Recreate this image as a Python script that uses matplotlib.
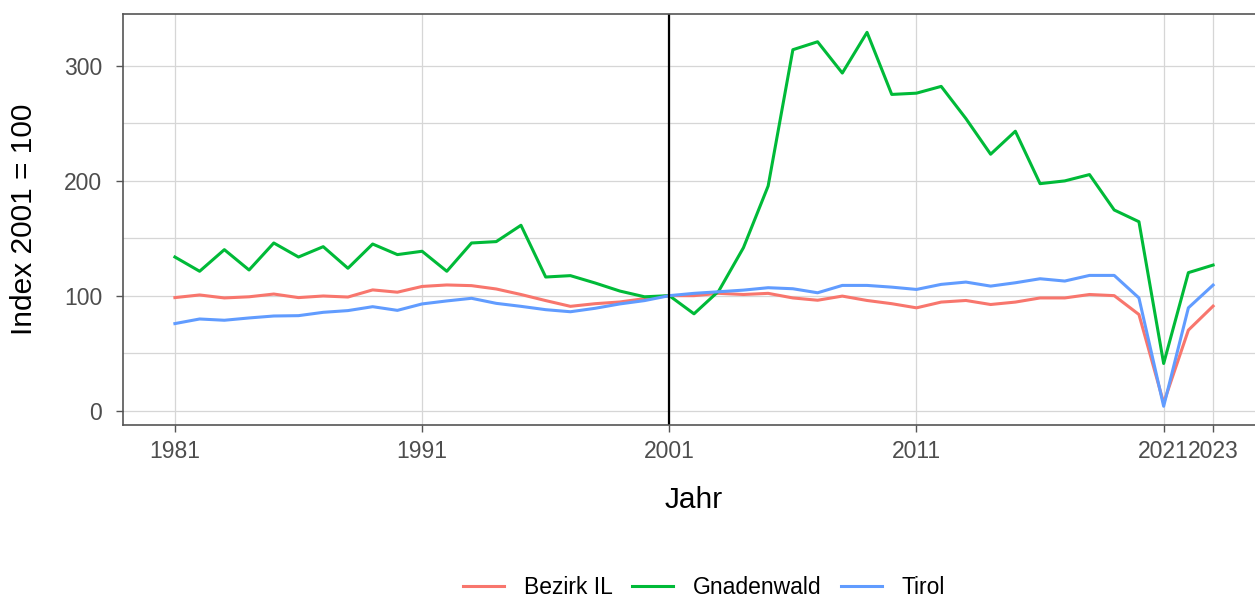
import matplotlib
matplotlib.use("Agg")
import matplotlib.pyplot as plt
from matplotlib.ticker import MultipleLocator

plt.rcParams['font.family'] = ['Liberation Sans', 'DejaVu Sans']

# Data (index 2001 = 100)
years = list(range(1981, 2024))

bezirk_il = [98.3, 100.6, 98.0, 99.0, 101.4, 98.3, 99.7, 98.8, 105.0, 103.0,
             108.0, 109.3, 108.7, 105.8, 101.0, 95.7, 90.7, 93.0, 94.5, 97.4,
             100.0, 100.0, 102.0, 101.0, 102.0, 98.0, 96.0, 99.6, 95.8, 93.0,
             89.4, 94.4, 95.8, 92.3, 94.4, 98.0, 98.0, 101.0, 100.0, 83.6,
             6.7, 70.0, 90.9]

gnadenwald = [133.6, 121.2, 140.0, 122.3, 145.8, 133.6, 142.6, 123.8, 144.9, 135.7,
              138.6, 121.2, 145.8, 147.0, 161.2, 116.2, 117.4, 111.0, 104.0, 99.0,
              100.0, 84.2, 104.0, 141.7, 195.4, 313.9, 320.8, 293.6, 329.0, 275.0,
              276.1, 282.0, 254.0, 223.0, 243.0, 197.4, 199.8, 205.3, 174.5, 164.3,
              41.0, 120.0, 126.6]

tirol = [75.7, 79.7, 78.6, 80.6, 82.3, 82.6, 85.5, 87.0, 90.4, 87.2,
         92.8, 95.4, 97.7, 93.3, 90.7, 87.8, 86.0, 89.0, 92.8, 95.7,
         100.0, 102.0, 103.4, 104.8, 106.9, 106.0, 102.5, 108.9, 108.9, 107.4,
         105.4, 109.8, 111.8, 108.3, 111.2, 114.7, 112.7, 117.6, 117.6, 98.0,
         3.8, 89.4, 109.2]

series = [("Bezirk IL", bezirk_il, "#F8766D"),
          ("Gnadenwald", gnadenwald, "#00BA38"),
          ("Tirol", tirol, "#619CFF")]

x_ticks = [1981, 1991, 2001, 2011, 2021, 2023]
base_year = 2001

W, H = 1255, 597
fig = plt.figure(figsize=(W / 100, H / 100), dpi=100)
# panel position in pixels (right edge runs slightly past the figure)
left, right, top, bottom = 123, 1265, 13.6, 425
ax = fig.add_axes([left / W, 1 - bottom / H, (right - left) / W, (bottom - top) / H])

for name, vals, color in series:
    ax.plot(years, vals, color=color, linewidth=2.2, label=name, solid_joinstyle='round')

ax.axvline(base_year, color='black', linewidth=1.6)

ax.set_xlim(1978.9, 2025.1)
ax.set_ylim(-12.5, 345.3)
ax.set_xticks(x_ticks)
ax.set_yticks([0, 100, 200, 300])
ax.yaxis.set_minor_locator(MultipleLocator(50))

grid_col = '#D6D6D6'
ax.grid(True, which='major', color=grid_col, linewidth=0.9)
ax.grid(True, which='minor', axis='y', color=grid_col, linewidth=0.9)
ax.set_axisbelow(True)

for sp in ax.spines.values():
    sp.set_color('#555555')
    sp.set_linewidth(1.2)

ax.tick_params(axis='both', which='major', length=5, width=1.0, color='#555555',
               labelsize=16.5, labelcolor='#4D4D4D')
ax.tick_params(axis='x', pad=6)
ax.tick_params(axis='y', pad=10)
ax.tick_params(axis='y', which='minor', length=0)

fig.text(0.5 * (left + right) / W, 1 - 500 / H, "Jahr", ha='center', va='center', fontsize=21.5)
fig.text(24 / W, 1 - 219 / H, "Index 2001 = 100", ha='center', va='center',
         rotation=90, fontsize=21.5)

handles, labels = ax.get_legend_handles_labels()
fig.legend(handles, labels, loc='center', bbox_to_anchor=(704 / W, 1 - 588 / H), ncol=3,
           frameon=False, fontsize=16.5, handlelength=1.8, handletextpad=0.85,
           columnspacing=0.85, borderaxespad=0)

fig.savefig("out.png", dpi=100)
